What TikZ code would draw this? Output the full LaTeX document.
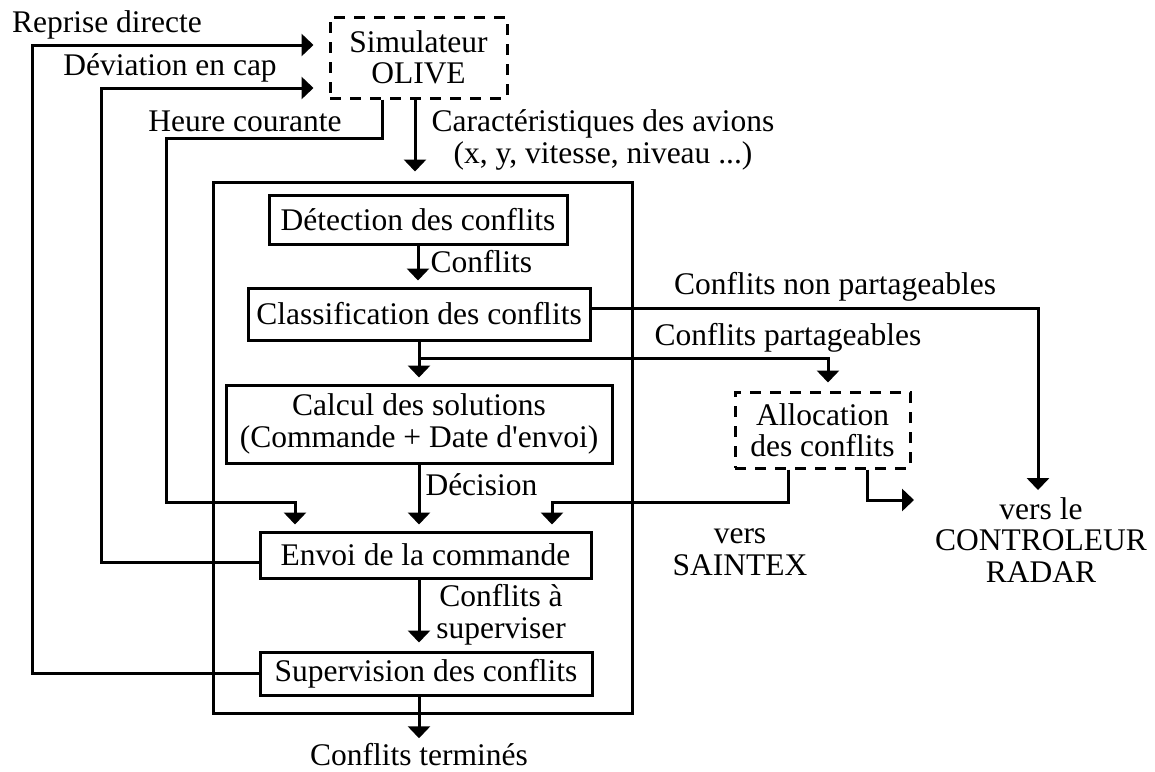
\documentclass[tikz,border=0pt]{standalone}
\usepackage{fontspec}
\setmainfont{Liberation Serif}
\usetikzlibrary{arrows.meta}
\begin{document}
\begin{tikzpicture}[x=1pt,y=-1pt,line width=3pt,
  every node/.style={font=\fontsize{31.5}{31.5}\selectfont,inner sep=0pt},
  solidbox/.style={draw,line width=3pt},
  dashbox/.style={draw,line width=3pt,dash pattern=on 11pt off 9pt},
  arr/.style={-{Triangle[width=22pt,length=12pt]},shorten >=6pt},
  lbl/.style={align=center}]
\useasboundingbox (0,0) rectangle (1155,771);
% outer frame
\node[solidbox,minimum width=419pt,minimum height=531pt] (main) at (422.5,447.5) {};
% boxes
\node[dashbox,minimum width=177pt,minimum height=81pt,align=center] (sim) at (418.5,57.5) {Simulateur\\OLIVE};
\node[solidbox,minimum width=298pt,minimum height=49pt] (det) at (418,219.5) {Détection des conflits};
\node[solidbox,minimum width=342pt,minimum height=52pt] (cls) at (419,314) {Classification des conflits};
\node[solidbox,minimum width=386pt,minimum height=78pt,align=center] (calc) at (419,424) {Calcul des solutions\\(Commande + Date d\textquotesingle envoi)};
\node[dashbox,minimum width=175pt,minimum height=76pt,align=center] (alloc) at (822.5,430) {Allocation\\des conflits};
\node[solidbox,minimum width=331pt,minimum height=46pt] (envoi) at (425.5,555) {Envoi de la commande};
\node[solidbox,minimum width=332pt,minimum height=43pt] (sup) at (426,673.5) {Supervision des conflits};
% labels
\node (lrep) at (107,25) {Reprise directe};
\node (ldev) at (170,68) {Déviation en cap};
\node (lheure) at (245,121) {Heure courante};
\node[lbl] (lcar) at (603,140) {Caractéristiques des avions\\(x, y, vitesse, niveau ...)};
\node[anchor=west] (lconf) at (429,262) {Conflits};
\node (lnon) at (835,287) {Conflits non partageables};
\node (lpart) at (788,338) {Conflits partageables};
\node[anchor=west] (ldec) at (424,485) {Décision};
\node[lbl] (saint) at (740,552) {vers\\SAINTEX};
\node[lbl] (ctl) at (1041,540) {vers le\\CONTROLEUR\\RADAR};
\node[lbl] (lsup) at (501,615) {Conflits à\\superviser};
\node (term) at (419,755) {Conflits terminés};
% helper coordinates
\coordinate (rl) at (32,45);
\coordinate (dl) at (101,88);
\coordinate (dy) at (0,562);
\coordinate (h1) at (382,138);
\coordinate (h2) at (166,502);
\coordinate (h3) at (295,502);
\coordinate (cx) at (415,0);
\coordinate (pb) at (419,358);
\coordinate (a1) at (788,502);
\coordinate (a2) at (552,502);
\coordinate (a3) at (867,500);
\coordinate (a4) at (914,500);
\coordinate (nx) at (1038,308);
% connectors
\draw[arr] (sup.west) -| (rl) -- ([xshift=-9pt]sim.west |- rl);
\draw[arr] (envoi.west |- dy) -| (dl) -- ([xshift=-9pt]sim.west |- dl);
\draw[arr] (sim.south -| h1) -- (h1) -| (h2) -- (h3) -- (h3 |- envoi.north);
\draw[arr,shorten >=9pt] (sim.south -| cx) -- (main.north -| cx);
\draw[arr] (det.south) -- (det.south |- cls.north);
\draw[arr] (cls.south) -- (cls.south |- calc.north);
\draw[arr] (cls.east |- nx) -- (nx) -- (nx |- ctl.north);
\draw[arr,shorten >=8pt] (pb) -| ([xshift=5.5pt]alloc.north);
\draw[arr] (calc.south) -- (calc.south |- envoi.north);
\draw[arr] (alloc.south -| a1) -- (a1) -- (a2) -- (a2 |- envoi.north);
\draw[arr,shorten >=0pt] (alloc.south -| a3) -- (a3) -- (a4);
\draw[arr,shorten >=8pt] (envoi.south -| calc.south) -- (sup.north -| calc.south);
\draw[arr,shorten >=4pt] (sup.south -| calc.south) -- (term.north);
\end{tikzpicture}
\end{document}
